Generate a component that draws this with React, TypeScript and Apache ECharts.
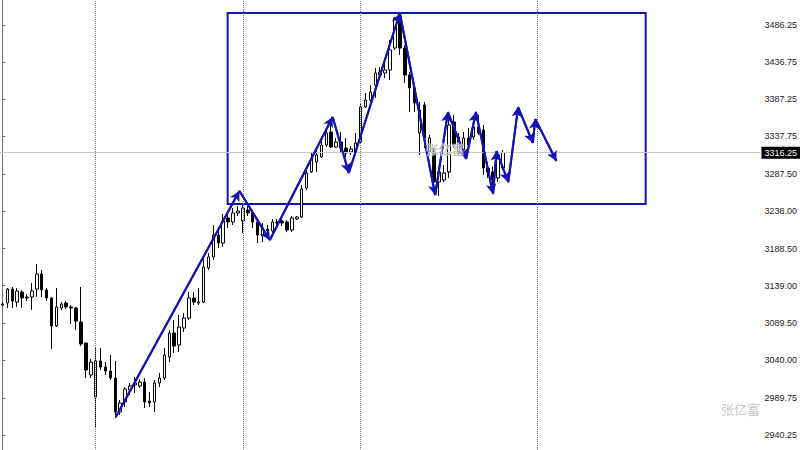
import React, { useEffect, useRef } from "react";
import * as echarts from "echarts";

const opens = [
  3113.3, 3116.0, 3134.6, 3117.3, 3130.6, 3122.7, 3124.0, 3134.6, 3154.6, 3133.3,
  3122.7, 3085.4, 3109.3, 3116.0, 3110.7, 3109.3, 3090.7, 3062.7, 3020.1, 2990.8,
  3038.8, 3030.8, 3025.4, 3016.1, 2970.8, 2984.2, 3000.1, 3006.8, 3005.5, 3010.8,
  2985.5, 2984.2, 3009.5, 3016.1, 3044.1, 3076.0, 3060.1, 3082.7, 3096.0, 3122.7,
  3116.0, 3117.3, 3162.6, 3177.3, 3206.5, 3195.9, 3229.2, 3223.9, 3235.9, 3225.2,
  3239.8, 3235.9, 3223.9, 3205.2, 3214.5, 3211.9, 3223.2, 3225.2, 3223.9, 3213.2,
  3227.9, 3230.5, 3269.1, 3290.5, 3303.8, 3310.4, 3326.4, 3343.7, 3323.7, 3330.4,
  3322.4, 3317.1, 3317.1, 3330.4, 3377.0, 3386.3, 3406.3, 3419.6, 3422.3, 3426.3,
  3455.6, 3495.5, 3455.6, 3419.6, 3402.3, 3342.4, 3379.7, 3317.1, 3317.1, 3277.1,
  3279.8, 3290.5, 3357.0, 3317.1, 3319.7, 3335.7, 3337.1, 3350.4, 3346.4, 3295.8,
  3290.5, 3282.5, 3295.8,
];
const closes = [
  3114.7, 3134.6, 3118.7, 3132.0, 3122.7, 3124.0, 3132.0, 3154.6, 3133.3, 3122.7,
  3085.4, 3110.7, 3114.7, 3110.7, 3109.3, 3092.0, 3061.4, 3026.8, 3037.4, 3038.8,
  3030.8, 3025.4, 3016.1, 2970.8, 2982.8, 3001.5, 3005.5, 3009.5, 3010.8, 2984.2,
  2982.8, 3009.5, 3016.1, 3046.7, 3076.0, 3058.7, 3084.0, 3096.0, 3122.7, 3117.3,
  3117.3, 3163.9, 3177.3, 3206.5, 3195.9, 3225.2, 3223.9, 3235.9, 3238.5, 3242.5,
  3235.9, 3223.9, 3206.5, 3215.9, 3211.9, 3223.9, 3223.9, 3222.5, 3213.2, 3229.2,
  3230.5, 3267.8, 3289.1, 3309.1, 3313.1, 3326.4, 3342.4, 3323.7, 3330.4, 3322.4,
  3315.8, 3321.1, 3329.1, 3377.0, 3386.3, 3397.0, 3422.3, 3423.6, 3426.3, 3452.9,
  3495.5, 3455.6, 3419.6, 3402.3, 3382.3, 3373.0, 3335.7, 3335.7, 3277.1, 3290.5,
  3289.1, 3353.0, 3326.4, 3337.1, 3335.7, 3326.4, 3350.4, 3342.4, 3295.8, 3290.5,
  3279.8, 3313.1, 3316.25,
];
const lows = [
  3112.0, 3109.3, 3109.3, 3110.7, 3109.3, 3118.7, 3106.7, 3124.0, 3124.0, 3118.7,
  3054.7, 3084.0, 3106.7, 3108.0, 3088.0, 3080.0, 3058.7, 3016.1, 3016.1, 2949.5,
  3026.8, 3020.1, 3013.5, 2962.9, 2966.8, 2977.5, 2993.5, 2996.1, 3002.8, 2976.2,
  2977.5, 2970.8, 3004.1, 3013.5, 3037.4, 3049.4, 3050.7, 3077.4, 3093.4, 3113.3,
  3113.3, 3116.0, 3159.9, 3173.3, 3189.2, 3190.6, 3215.9, 3219.9, 3231.9, 3209.2,
  3231.9, 3215.9, 3195.9, 3197.2, 3206.5, 3207.9, 3219.9, 3218.5, 3210.5, 3210.5,
  3226.5, 3229.2, 3266.5, 3289.1, 3290.5, 3309.1, 3323.7, 3322.4, 3322.4, 3317.1,
  3310.4, 3313.1, 3315.8, 3329.1, 3375.7, 3383.7, 3389.0, 3415.6, 3415.6, 3413.0,
  3452.9, 3446.3, 3409.0, 3370.4, 3370.4, 3313.1, 3322.4, 3311.8, 3263.8, 3258.5,
  3277.1, 3282.5, 3322.4, 3313.1, 3314.4, 3319.7, 3333.1, 3339.7, 3286.5, 3282.5,
  3273.1, 3277.1, 3293.1,
];
const highs = [
  3117.3, 3136.0, 3137.3, 3136.0, 3133.3, 3128.0, 3142.6, 3167.9, 3159.9, 3136.0,
  3124.0, 3136.0, 3117.3, 3118.7, 3113.3, 3110.7, 3137.3, 3063.5, 3041.4, 3056.1,
  3056.1, 3037.4, 3046.7, 3038.8, 2986.8, 3004.1, 3009.5, 3017.5, 3014.8, 3016.1,
  2997.5, 3013.5, 3022.8, 3056.1, 3080.0, 3093.4, 3100.0, 3102.7, 3130.6, 3130.6,
  3136.0, 3179.9, 3182.6, 3219.9, 3217.2, 3234.5, 3235.9, 3242.5, 3245.2, 3246.5,
  3245.2, 3238.5, 3229.2, 3222.5, 3219.9, 3227.9, 3227.9, 3227.9, 3226.5, 3231.9,
  3231.9, 3273.1, 3293.1, 3317.1, 3319.7, 3335.7, 3349.0, 3353.0, 3335.7, 3343.7,
  3335.7, 3325.1, 3342.4, 3382.3, 3395.7, 3406.3, 3428.9, 3430.3, 3435.6, 3466.2,
  3496.9, 3502.2, 3459.6, 3423.6, 3406.3, 3383.7, 3383.7, 3339.7, 3322.4, 3295.8,
  3299.8, 3366.4, 3366.4, 3342.4, 3343.7, 3349.0, 3357.0, 3366.4, 3353.0, 3303.8,
  3297.1, 3317.1, 3319.7,
];

// Zigzag projection (bar index, price)
const zigX = [23.1, 48.3, 54.5, 67.3, 70.6, 81.0, 88.2, 90.8, 94.5, 96.5, 100.0, 100.7, 103.1, 105.1, 108.1, 108.6, 112.9];
const zigY = [2964.2, 3265.1, 3199.9, 3363.7, 3289.1, 3502.2, 3259.8, 3370.3, 3307.8, 3370.3, 3261.2, 3318.4, 3277.1, 3377.0, 3329.1, 3361.0, 3305.1];

// Range box (bar index, price)
const boxX = [45.9, 131.1];
const boxY = [3502.2, 3247.8];

// Period separators (bar index)
const separators = [19, 49, 73, 109];

const yTicks = [3486.25, 3436.75, 3387.25, 3337.75, 3287.5, 3238.0, 3188.5, 3139.0, 3089.5, 3040.0, 2989.75, 2940.25];
const currentPrice = 3316.25;
const yMin = 2920.25;
const yMax = 3519.5;
const totalSlots = 155;
const watermark = "张亿富";

const BLUE = "#1414b4";

export default function App() {
  const ref = useRef<HTMLDivElement>(null);

  useEffect(() => {
    if (!ref.current) return;
    const chart = echarts.init(ref.current, null, { renderer: "svg" });
    const categories = Array.from({ length: totalSlots }, (_, i) => String(i));
    const candleData = opens.map((o, i) => [o, closes[i], lows[i], highs[i]]);
    const zigData = zigX.map((x, i) => [x, zigY[i]]);
    const arrowSegments = zigData.slice(1).map((p, i) => [
      { coord: zigData[i] },
      { coord: p },
    ]);

    chart.setOption({
      animation: false,
      backgroundColor: "#ffffff",
      grid: { left: 0, right: 38, top: 0, bottom: 0, containLabel: false },
      xAxis: [
        { type: "category", data: categories, show: false, boundaryGap: true },
        { type: "value", min: -0.5, max: totalSlots - 0.5, show: false },
      ],
      yAxis: {
        type: "value",
        position: "right",
        min: yMin,
        max: yMax,
        axisLine: { show: true, lineStyle: { color: "#6e6e6e", width: 1 } },
        axisTick: { show: true, length: 3, customValues: yTicks, lineStyle: { color: "#6e6e6e" } },
        axisLabel: {
          customValues: yTicks,
          formatter: (v: number) => v.toFixed(2),
          color: "#222",
          fontSize: 9,
          fontFamily: "Liberation Sans",
          margin: 4,
        },
        splitLine: { show: false },
      },
      graphic: [
        {
          type: "text",
          left: 721,
          top: 402,
          z: 50,
          style: { text: watermark, fill: "#c4c4c4", font: '13px "Noto Sans CJK SC"' },
        },
        {
          type: "text",
          left: 425,
          top: 141,
          z: 50,
          style: {
            text: watermark,
            fill: "rgba(165,165,165,0.85)",
            stroke: "rgba(255,255,255,0.6)",
            lineWidth: 1,
            font: '13px "Noto Sans CJK SC"',
          },
        },
      ],
      series: [
        {
          type: "candlestick",
          xAxisIndex: 0,
          yAxisIndex: 0,
          data: candleData,
          barWidth: 3,
          itemStyle: {
            color: "#ffffff",
            color0: "#000000",
            borderColor: "#000000",
            borderColor0: "#000000",
            borderWidth: 1,
          },
          markLine: {
            silent: true,
            symbol: "none",
            animation: false,
            data: [
              {
                yAxis: currentPrice,
                lineStyle: { color: "#c8c8c8", width: 1, type: "solid" },
                label: {
                  show: true,
                  position: "end",
                  distance: 1,
                  formatter: () => currentPrice.toFixed(2),
                  backgroundColor: "#000",
                  color: "#fff",
                  fontSize: 9,
                  fontFamily: "Liberation Sans",
                  padding: [2, 3, 1, 3],
                },
              },
              ...separators.map((s) => ({
                xAxis: String(s),
                lineStyle: { color: "#777", width: 1, type: "dotted" },
                label: { show: false },
              })),
            ],
          },
        },
        {
          type: "line",
          xAxisIndex: 1,
          yAxisIndex: 0,
          data: zigData,
          symbol: "none",
          showSymbol: false,
          lineStyle: { color: BLUE, width: 2 },
          z: 5,
          silent: true,
          markLine: {
            silent: true,
            animation: false,
            symbol: ["none", "arrow"],
            symbolSize: [8, 10],
            label: { show: false },
            lineStyle: { color: BLUE, width: 2, type: "solid" },
            itemStyle: { color: BLUE },
            data: arrowSegments,
          },
          markArea: {
            silent: true,
            itemStyle: { color: "rgba(0,0,0,0)", borderColor: BLUE, borderWidth: 2 },
            data: [[{ coord: [boxX[0], boxY[0]] }, { coord: [boxX[1], boxY[1]] }]],
          },
        },
      ],
    });

    return () => chart.dispose();
  }, []);

  return (
    <div
      ref={ref}
      style={{ position: "fixed", left: 0, top: 0, width: 800, height: 450, background: "#fff" }}
    />
  );
}
